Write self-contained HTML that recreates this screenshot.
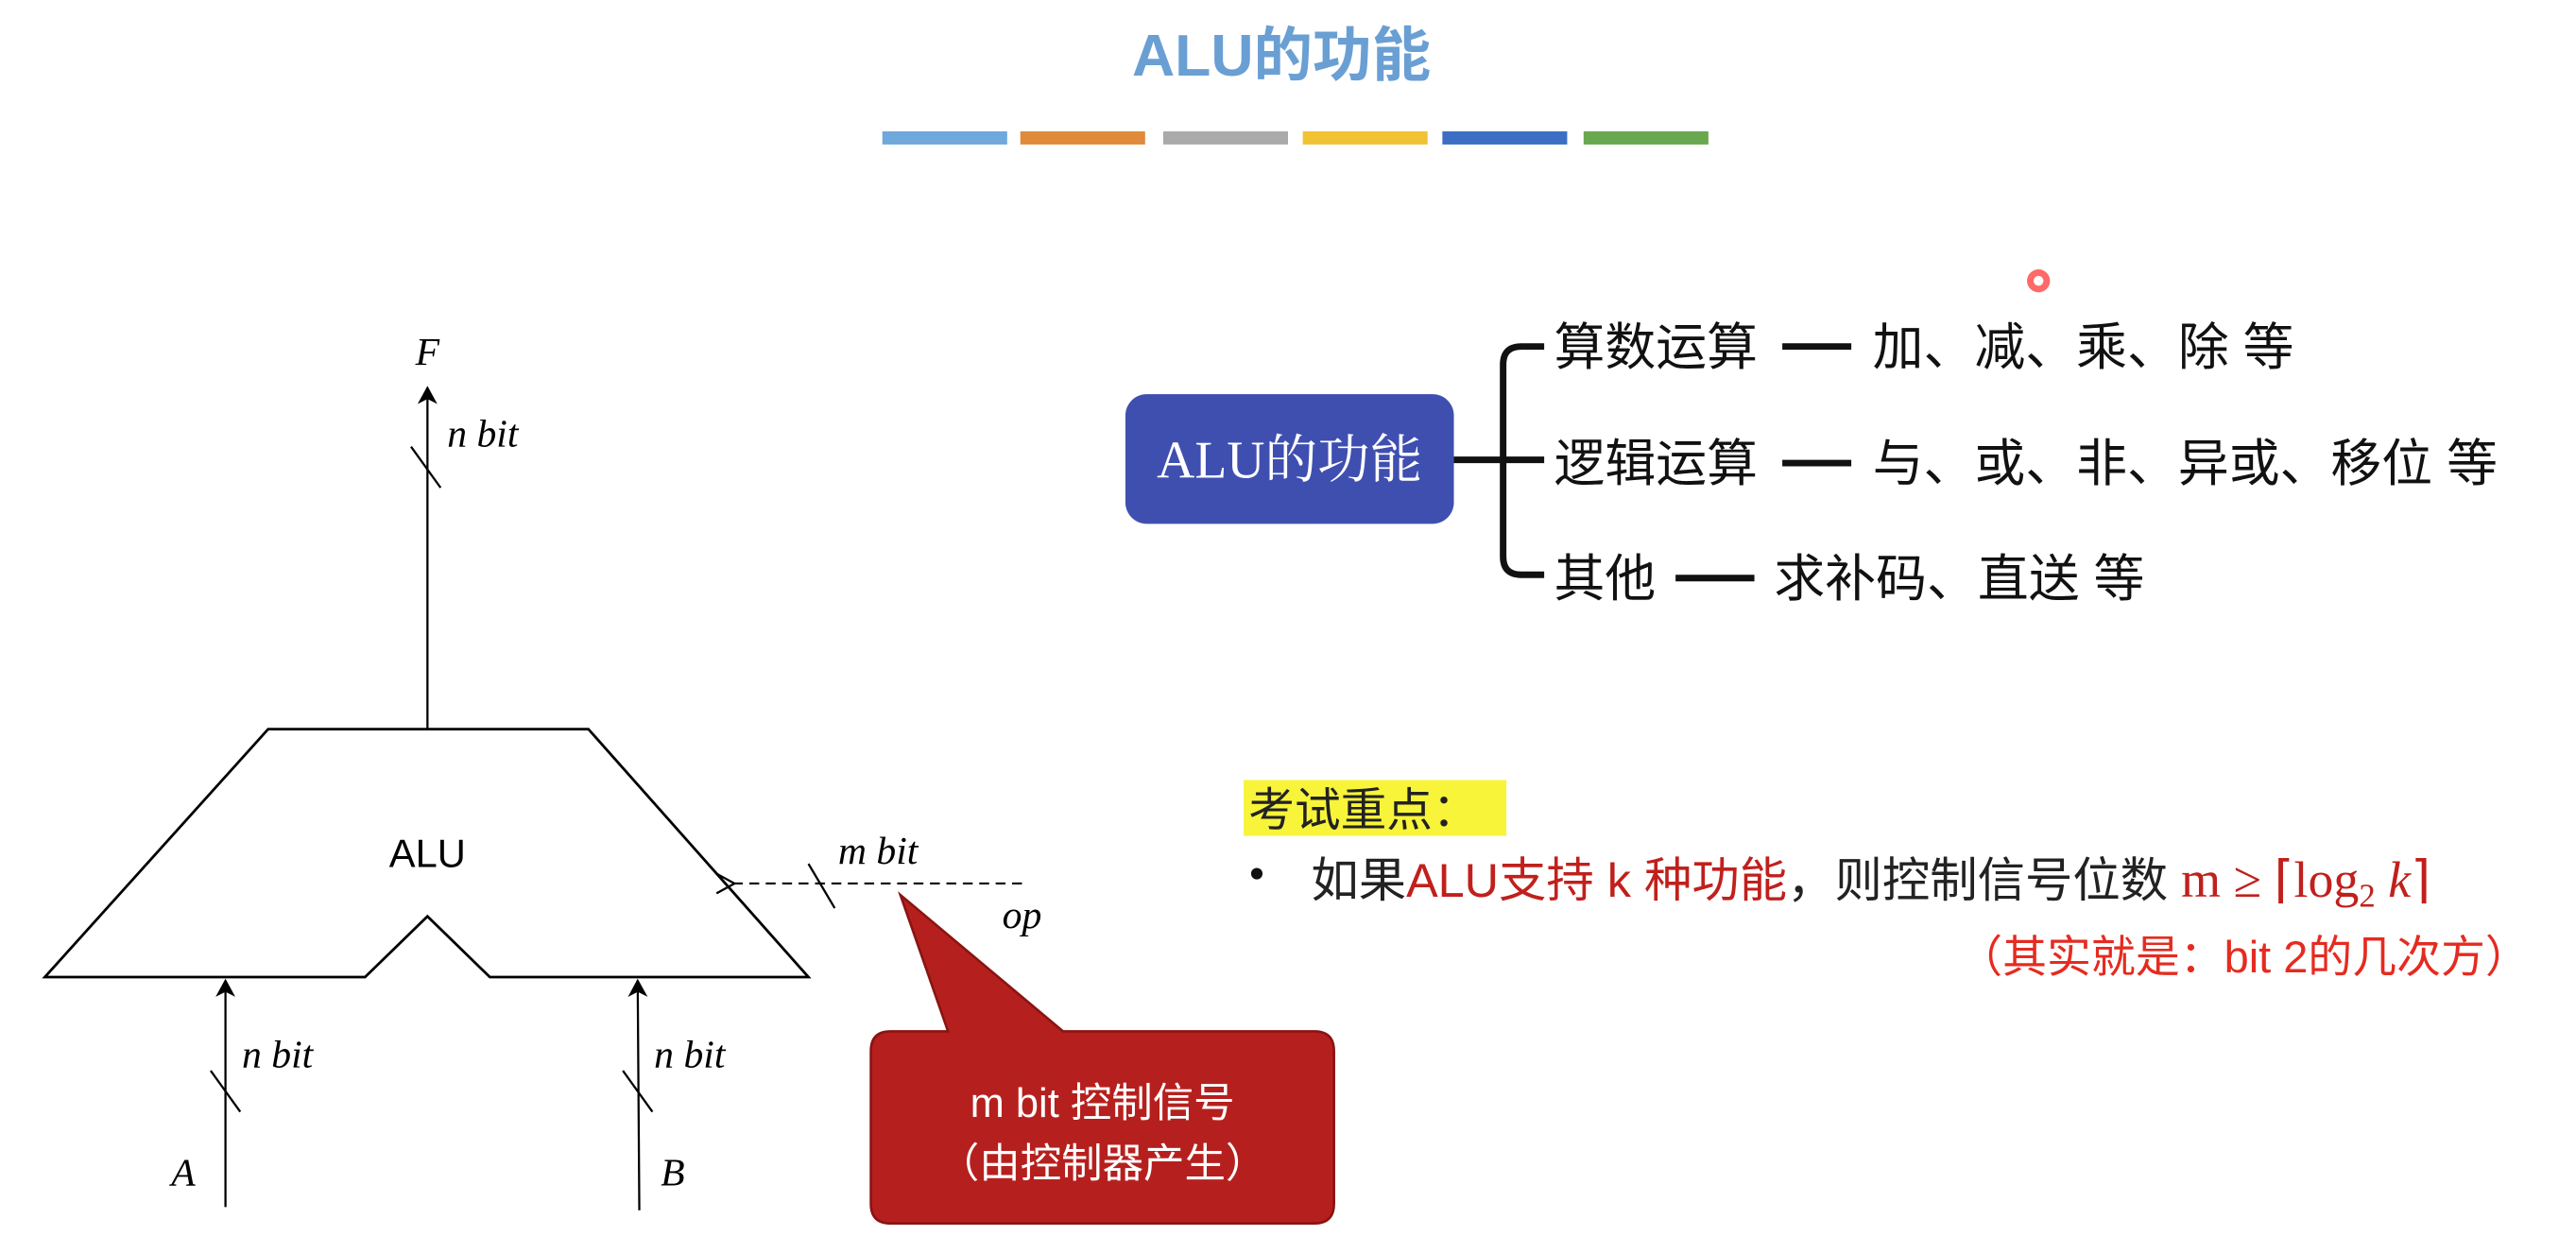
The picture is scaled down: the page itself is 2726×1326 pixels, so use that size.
<!DOCTYPE html>
<html><head><meta charset="utf-8"><style>
html,body{margin:0;padding:0;background:#fff;}
svg{display:block;}
.cj{font-family:"Liberation Sans","Noto Sans CJK SC",sans-serif;}
.it{font-family:"Liberation Serif",serif;font-style:italic;}
</style></head><body>
<svg width="2726" height="1326" viewBox="0 0 1568 763" xmlns="http://www.w3.org/2000/svg">
<defs>
<marker id="ah" markerWidth="12" markerHeight="12" refX="10" refY="6" orient="auto" markerUnits="userSpaceOnUse">
<path d="M0,0 L11,6 L0,12 L3,6 Z" fill="#000"/></marker>
<marker id="ao" markerWidth="14" markerHeight="14" refX="1" refY="7" orient="auto" markerUnits="userSpaceOnUse">
<path d="M12,1 L1,7 L12,13" fill="none" stroke="#000" stroke-width="1.3"/></marker>
</defs>
<rect width="1568" height="763" fill="#fff"/>
<text x="780" y="46" text-anchor="middle" class="cj" font-size="36" font-weight="bold" fill="#6a9fd4">ALU的功能</text>
<rect x="537" y="80" width="76" height="8" fill="#6fa8dc"/>
<rect x="621" y="80" width="76" height="8" fill="#e08a3c"/>
<rect x="708" y="80" width="76" height="8" fill="#aaaaaa"/>
<rect x="793" y="80" width="76" height="8" fill="#f1c232"/>
<rect x="878" y="80" width="76" height="8" fill="#3c6fc4"/>
<rect x="964" y="80" width="76" height="8" fill="#6aa84f"/>

<path d="M163,444 L358,444 L492,595 L298,595 L260,558 L222,595 L27,595 Z" fill="#fff" stroke="#000" stroke-width="1.6"/>
<text x="260" y="528" text-anchor="middle" font-family="Liberation Sans,sans-serif" font-size="24">ALU</text>
<line x1="260" y1="444" x2="260" y2="236" stroke="#000" stroke-width="1.3" marker-end="url(#ah)"/>
<line x1="250" y1="272" x2="268" y2="297" stroke="#000" stroke-width="1.3"/>
<text x="260" y="222" text-anchor="middle" class="it" font-size="24">F</text>
<text x="272" y="272" class="it" font-size="24">n bit</text>

<line x1="137" y1="735" x2="137" y2="597" stroke="#000" stroke-width="1.3" marker-end="url(#ah)"/>
<line x1="128" y1="652" x2="146" y2="677" stroke="#000" stroke-width="1.3"/>
<text x="147" y="650" class="it" font-size="24">n bit</text>
<text x="104" y="722" class="it" font-size="24">A</text>

<line x1="389" y1="737" x2="388" y2="597" stroke="#000" stroke-width="1.3" marker-end="url(#ah)"/>
<line x1="379" y1="652" x2="397" y2="677" stroke="#000" stroke-width="1.3"/>
<text x="398" y="650" class="it" font-size="24">n bit</text>
<text x="402" y="722" class="it" font-size="24">B</text>

<line x1="622" y1="538" x2="447" y2="538" stroke="#000" stroke-width="1.2" stroke-dasharray="6,4" marker-end="url(#ao)"/>
<line x1="492" y1="526" x2="508" y2="553" stroke="#000" stroke-width="1.3"/>
<text x="510" y="526" class="it" font-size="24">m bit</text>
<text x="610" y="565" class="it" font-size="24">op</text>

<path d="M548,545 L647,628 L800,628 Q812,628 812,640 L812,733 Q812,745 800,745 L542,745 Q530,745 530,733 L530,640 Q530,628 542,628 L577,628 Z" fill="#b5201e" stroke="#8a1412" stroke-width="1.5"/>
<text x="671" y="680" text-anchor="middle" class="cj" font-size="25" fill="#fff">m bit 控制信号</text>
<text x="671" y="717" text-anchor="middle" class="cj" font-size="25" fill="#fff">（由控制器产生）</text>

<rect x="685" y="240" width="200" height="79" rx="13" fill="#3f4fb0"/>
<text x="785" y="291" text-anchor="middle" font-family="Liberation Serif,Noto Serif CJK SC,serif" font-size="32" fill="#fff">ALU的功能</text>
<line x1="885" y1="280" x2="915" y2="280" stroke="#111" stroke-width="4"/>
<path d="M940,211 L926,211 Q915,211 915,222 L915,339 Q915,350 926,350 L940,350 M915,280 L940,280" fill="none" stroke="#111" stroke-width="4"/>
<g class="cj" font-size="31" fill="#111">
<text x="946" y="222">算数运算</text>
<text x="1140" y="222">加、减、乘、除 等</text>
<text x="946" y="293">逻辑运算</text>
<text x="1140" y="293">与、或、非、异或、移位 等</text>
<text x="946" y="363">其他</text>
<text x="1080" y="363">求补码、直送 等</text>
</g>
<line x1="1085" y1="211" x2="1127" y2="211" stroke="#111" stroke-width="4"/>
<line x1="1085" y1="282" x2="1127" y2="282" stroke="#111" stroke-width="4"/>
<line x1="1020" y1="352" x2="1068" y2="352" stroke="#111" stroke-width="4"/>
<circle cx="1241" cy="171" r="7" fill="#f44" opacity="0.8"/>
<circle cx="1241" cy="171" r="3" fill="#fff"/>

<rect x="757" y="475" width="160" height="34" fill="#f7f43a"/>
<text x="760" y="503" class="cj" font-size="28" fill="#222">考试重点：</text>
<circle cx="765" cy="532" r="3.5" fill="#111"/>
<text x="798" y="546" class="cj" font-size="29" fill="#222">如果<tspan fill="#c0201c">ALU支持 k 种功能</tspan>，则控制信号位数 <tspan fill="#c0201c" font-family="Liberation Serif,serif" font-size="31">m ≥ ⌈log<tspan font-size="20" dy="6">2</tspan><tspan dy="-6" font-style="italic"> k</tspan>⌉</tspan></text>
<text x="1540" y="592" text-anchor="end" class="cj" font-size="27" fill="#e52b20">（其实就是：bit  2的几次方）</text>
</svg>
</body></html>
